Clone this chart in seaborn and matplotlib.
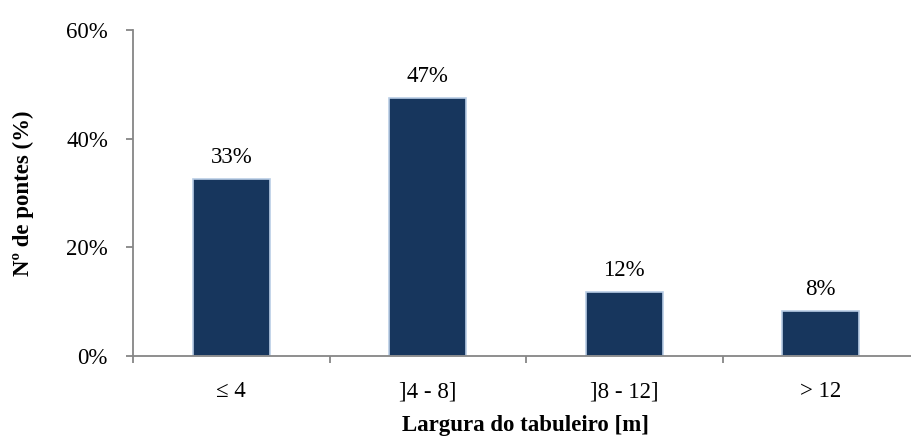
import matplotlib
matplotlib.use("Agg")
import matplotlib.pyplot as plt
import seaborn as sns
import pandas as pd
from matplotlib.ticker import FixedLocator, FuncFormatter

# Deck width classes and share of bridges (%)
categories = ["\u2264 4", "]4 - 8]", "]8 - 12]", "> 12"]
shares = [32.6, 47.4, 11.8, 8.3]
y_ticks = [0, 20, 40, 60]

df = pd.DataFrame({"largura": categories, "pontes": shares})

sns.set_theme(style="white")
plt.rcParams["font.family"] = ["Liberation Serif", "DejaVu Serif"]

FS = 16.5

fig = plt.figure(figsize=(9.11, 4.36), dpi=100)
ax = fig.add_axes([133 / 911, 80 / 436, 786 / 911, 326 / 436])

sns.barplot(data=df, x="largura", y="pontes", ax=ax, width=0.39,
            color="#17365D", edgecolor="#B9CDE5", linewidth=1.2,
            saturation=1)

ax.set_xlim(-0.5, 3.5)
ax.set_ylim(0, 60)

# value labels above each bar
for i, v in enumerate(shares):
    ax.annotate(f"{v:.0f}%", (i, v), xytext=(0, 11.5), textcoords="offset points",
                ha="center", va="baseline", fontsize=FS, color="black")

# spines
for side in ["top", "right"]:
    ax.spines[side].set_visible(False)
for side in ["left", "bottom"]:
    ax.spines[side].set_color("#868686")
    ax.spines[side].set_linewidth(1.3)

ax.yaxis.set_major_locator(FixedLocator(y_ticks))
ax.yaxis.set_major_formatter(FuncFormatter(lambda v, p: f"{v:.0f}%"))
ax.tick_params(axis="y", which="major", left=True, length=5, width=1.3,
               color="#868686", pad=13, labelsize=FS, labelcolor="black")

# category labels centred, tick marks on the category boundaries
ax.set_xticks(range(len(categories)))
ax.set_xticklabels(categories)
ax.tick_params(axis="x", which="major", bottom=False, length=0, pad=18,
               labelsize=FS, labelcolor="black")
ax.set_xticks([-0.5, 0.5, 1.5, 2.5, 3.5], minor=True)
ax.tick_params(axis="x", which="minor", bottom=True, length=5, width=1.3,
               color="#868686")

ax.set_xlabel("Largura do tabuleiro [m]", fontsize=FS, fontweight="bold",
              color="black", labelpad=9)
ax.set_ylabel("N\u00ba de pontes (%)", fontsize=FS, fontweight="bold",
              color="black", labelpad=23)

fig.savefig("out.png", dpi=100)
